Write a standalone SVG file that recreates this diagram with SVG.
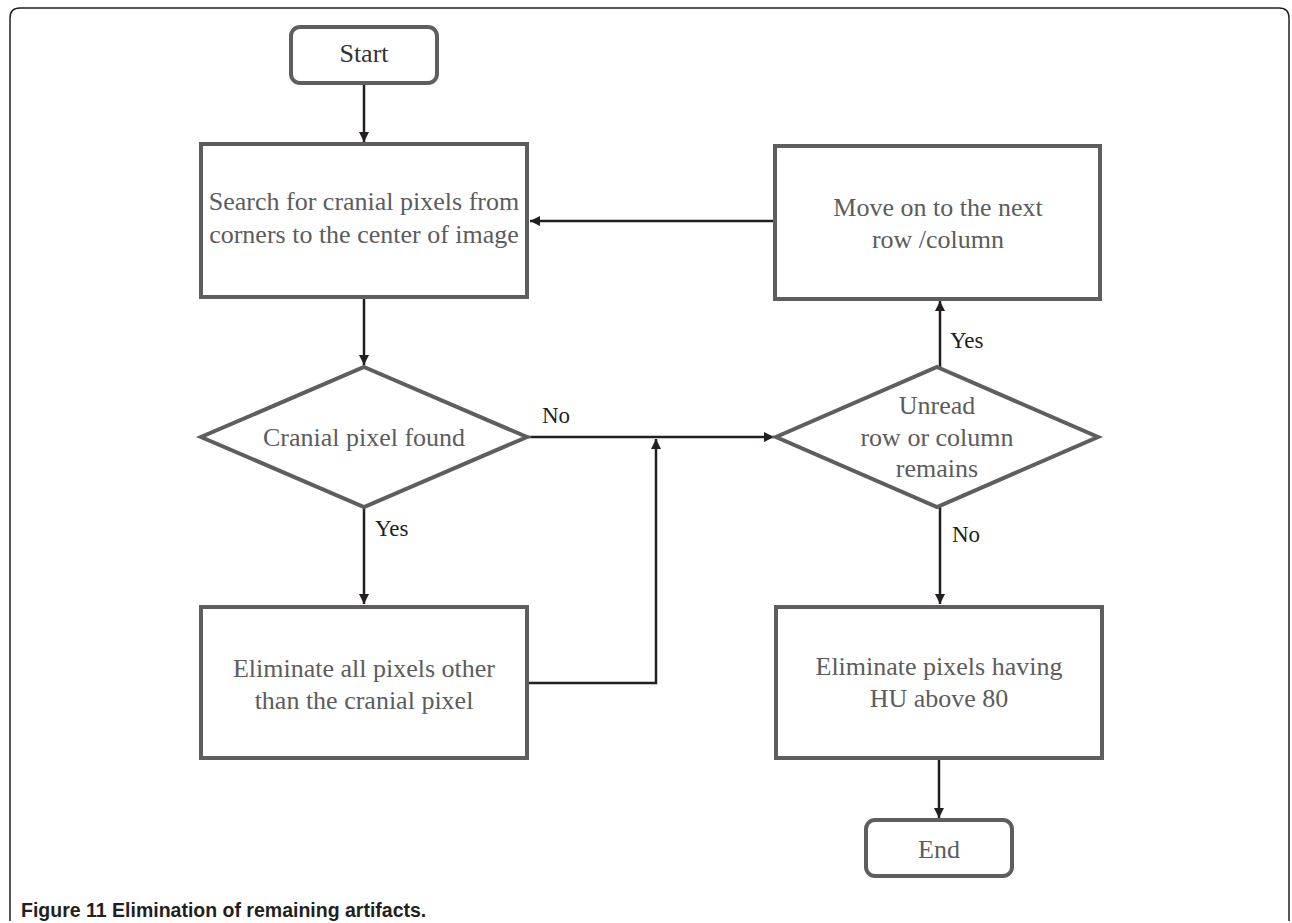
<svg xmlns="http://www.w3.org/2000/svg" width="1292" height="923" viewBox="0 0 1292 923">
<style>
.frame{fill:none;stroke:#231f20;stroke-width:1.5}
.box{fill:#fff;stroke:#5e5e5e;stroke-width:4}
.t{font-family:"Liberation Serif","Times New Roman",serif;font-size:26px;fill:#5c5c5c;text-anchor:middle}
.lbl{font-family:"Liberation Serif","Times New Roman",serif;font-size:23px;fill:#231f20}
.c{fill:none;stroke:#231f20;stroke-width:2.5}
.cap{font-family:"Liberation Sans",Arial,sans-serif;font-size:19.5px;font-weight:bold;fill:#231f20}
</style>
<defs>
<marker id="ah" viewBox="0 0 10 10" refX="10" refY="5" markerWidth="5.6" markerHeight="4" orient="auto" markerUnits="strokeWidth">
<path d="M0,0 L10,5 L0,10 z" fill="#231f20"/>
</marker>
</defs>
<rect width="1292" height="923" fill="#fff"/>
<path class="frame" d="M10,921 L10,18 Q10,8 20,8 L1279,8 Q1289,8 1289,18 L1289,921"/>

<g id="connectors">
<path class="c" d="M364,83 L364,142" marker-end="url(#ah)"/>
<path class="c" d="M364,298 L364,365" marker-end="url(#ah)"/>
<path class="c" d="M527,437 L774,437" marker-end="url(#ah)"/>
<path class="c" d="M364,507 L364,604" marker-end="url(#ah)"/>
<path class="c" d="M529,683 L656,683 L656,439" marker-end="url(#ah)"/>
<path class="c" d="M940,367 L940,301" marker-end="url(#ah)"/>
<path class="c" d="M775,221 L530,221" marker-end="url(#ah)"/>
<path class="c" d="M940,507 L940,604" marker-end="url(#ah)"/>
<path class="c" d="M939,759 L939,818" marker-end="url(#ah)"/>
<text class="lbl" x="542" y="423">No</text>
<text class="lbl" x="375" y="536">Yes</text>
<text class="lbl" x="950" y="348">Yes</text>
<text class="lbl" x="952" y="542">No</text>
</g>

<g id="start">
<rect class="box" x="291" y="27" width="146" height="56" rx="9"/>
<text class="t" x="364" y="62" style="fill:#333">Start</text>
</g>
<g id="search">
<rect class="box" x="201" y="144" width="326" height="153"/>
<text class="t" x="364" y="210">Search for cranial pixels from</text>
<text class="t" x="364" y="243">corners to the center of image</text>
</g>
<g id="found">
<polygon class="box" points="364,367 527,437 364,507 201,437"/>
<text class="t" x="364" y="446">Cranial pixel found</text>
</g>
<g id="eliminate-other">
<rect class="box" x="201" y="607" width="326" height="151"/>
<text class="t" x="364" y="677">Eliminate all pixels other</text>
<text class="t" x="364" y="709">than the cranial pixel</text>
</g>
<g id="move">
<rect class="box" x="775" y="146" width="325" height="153"/>
<text class="t" x="938" y="216">Move on to the next</text>
<text class="t" x="938" y="248">row /column</text>
</g>
<g id="unread">
<polygon class="box" points="937,367 1098,437 937,507 776,437"/>
<text class="t" x="937" y="414">Unread</text>
<text class="t" x="937" y="446">row or column</text>
<text class="t" x="937" y="477">remains</text>
</g>
<g id="eliminate-hu">
<rect class="box" x="776" y="607" width="326" height="151"/>
<text class="t" x="939" y="675">Eliminate pixels having</text>
<text class="t" x="939" y="707">HU above 80</text>
</g>
<g id="end">
<rect class="box" x="866" y="820" width="146" height="56" rx="9"/>
<text class="t" x="939" y="858">End</text>
</g>
<text class="cap" x="21" y="917">Figure 11 Elimination of remaining artifacts.</text>
</svg>
